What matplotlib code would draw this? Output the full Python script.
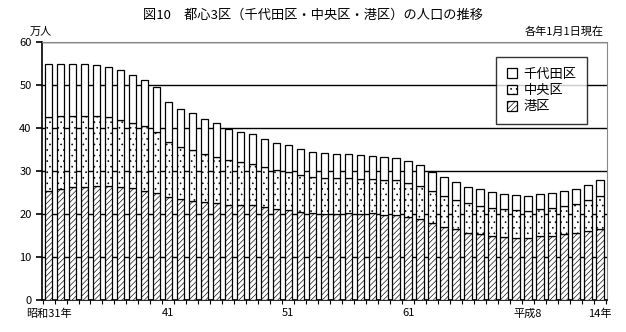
import matplotlib
matplotlib.use("Agg")
import matplotlib.pyplot as plt
import numpy as np

plt.rcParams['font.family'] = ['Noto Sans CJK JP', 'DejaVu Sans']
plt.rcParams['hatch.linewidth'] = 0.45

# cumulative tops (万人)
total = [55.0, 55.0, 55.0, 55.0, 54.7, 54.2, 53.6, 52.4, 51.2, 49.5,
         46.0, 44.4, 43.6, 42.1, 41.2, 39.8, 39.1, 38.6, 37.4, 36.5,
         36.0, 35.1, 34.4, 34.2, 34.0, 34.0, 33.7, 33.5, 33.3, 33.0,
         32.3, 31.5, 29.9, 28.7, 27.4, 26.4, 25.8, 25.1, 24.7, 24.4,
         24.2, 24.7, 24.9, 25.4, 25.8, 26.7, 27.9]
chuo_top = [42.6, 42.8, 42.9, 42.9, 42.9, 42.6, 41.9, 41.2, 40.5, 39.1,
            36.7, 35.6, 35.0, 34.0, 33.3, 32.6, 32.1, 31.6, 30.9, 30.2,
            29.8, 29.1, 28.6, 28.4, 28.4, 28.4, 28.1, 28.1, 27.9, 27.9,
            27.2, 26.6, 25.4, 24.3, 23.3, 22.6, 21.9, 21.4, 21.2, 20.9,
            20.7, 21.2, 21.4, 21.9, 22.3, 23.3, 24.3]
minato = [25.3, 25.8, 26.2, 26.4, 26.6, 26.6, 26.4, 26.0, 25.4, 24.9,
          24.0, 23.5, 23.1, 22.8, 22.6, 22.1, 22.1, 22.1, 21.6, 21.2,
          20.9, 20.5, 20.2, 20.0, 20.0, 20.2, 20.0, 20.2, 19.8, 19.8,
          19.3, 18.8, 17.9, 17.0, 16.5, 15.6, 15.4, 15.0, 14.7, 14.4,
          14.4, 14.8, 14.8, 15.3, 15.5, 16.0, 16.5]

chuo = [c - m for c, m in zip(chuo_top, minato)]
chiyoda = [t - c for t, c in zip(total, chuo_top)]

tick_idx = [0, 10, 20, 30, 40, 46]
tick_labels = ['昭和31年', '41', '51', '61', '平成8', '14年']

fig = plt.figure(figsize=(6.26, 3.32), dpi=100)
ax = fig.add_axes([0.067, 0.096, 0.902, 0.777])

x = np.arange(len(total))
w = 0.62
ax.bar(x, minato, w, color='white', edgecolor='black', hatch='//////',
       linewidth=0.9, label='港区', zorder=3)
ax.bar(x, chuo, w, bottom=minato, color='white', edgecolor='black',
       hatch='...', linewidth=0.9, label='中央区', zorder=3)
ax.bar(x, chiyoda, w, bottom=chuo_top, color='white', edgecolor='black',
       linewidth=0.9, label='千代田区', zorder=3)

ax.set_xlim(-0.55, len(total) - 0.45)
ax.set_ylim(0, 60)
ax.set_yticks(range(0, 61, 10))
ax.tick_params(axis='y', labelsize=8, length=4, width=1.2, direction='out')
ax.yaxis.grid(True, color='black', linewidth=1.0, zorder=0)
ax.set_axisbelow(True)

ax.set_xticks(np.arange(len(total) + 1) - 0.5, minor=True)
ax.set_xticks(x[tick_idx])
ax.set_xticklabels(tick_labels, fontsize=8)
ax.tick_params(axis='x', which='major', length=0, pad=6)
ax.tick_params(axis='x', which='minor', length=3, width=0.8)

for s in ['top', 'right']:
    ax.spines[s].set_color('#888888')
for s in ['left', 'bottom']:
    ax.spines[s].set_color('black')
    ax.spines[s].set_linewidth(1.2)

handles, labels = ax.get_legend_handles_labels()
leg = ax.legend(handles[::-1], labels[::-1], loc='upper right',
                bbox_to_anchor=(0.965, 0.942), fontsize=9.5, frameon=True,
                fancybox=False, edgecolor='black', handlelength=0.75,
                handleheight=0.75, labelspacing=0.25, borderpad=0.8,
                handletextpad=0.5, borderaxespad=0)
leg.get_frame().set_linewidth(1.0)
leg.set_zorder(5)

fig.text(0.5, 0.955, '図10　都心3区（千代田区・中央区・港区）の人口の推移',
         ha='center', va='center', fontsize=9.5)
fig.text(0.065, 0.905, '万人', ha='center', va='center', fontsize=8)
fig.text(0.965, 0.905, '各年1月1日現在', ha='right', va='center', fontsize=8)

fig.savefig('out.png', dpi=100)
